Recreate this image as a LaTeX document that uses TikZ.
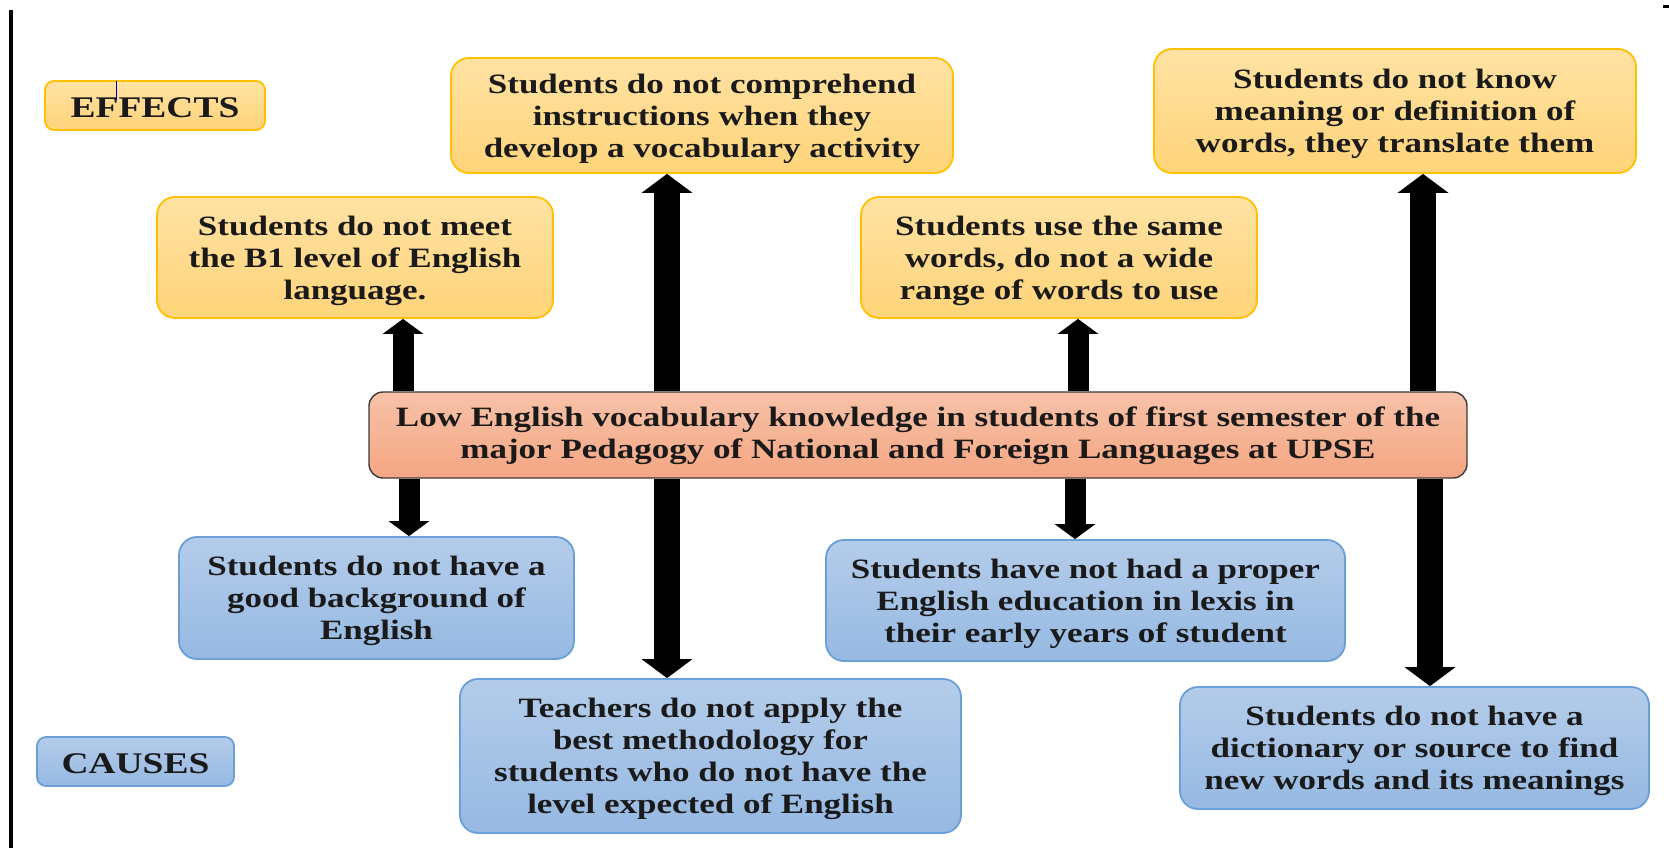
\documentclass[tikz,border=0pt]{standalone}
\usepackage{fontspec}
\setmainfont{Liberation Serif}[FakeStretch=1.25]
\usepackage{tikz}
\usetikzlibrary{arrows.meta}
\usepackage{color}

\definecolor{effline}{HTML}{FFC000}
\definecolor{efftop}{HTML}{FFE2A3}
\definecolor{effbot}{HTML}{FFD47A}
\definecolor{cauline}{HTML}{6A9FD8}
\definecolor{cautop}{HTML}{B4CCEA}
\definecolor{caubot}{HTML}{96B9E2}
\definecolor{probtop}{HTML}{F7C2A9}
\definecolor{probbot}{HTML}{F4A682}
\definecolor{probline}{HTML}{3A3A3A}
\definecolor{inktext}{HTML}{1A1A1A}

\tikzset{
  box/.style={rounded corners=18pt, line width=1.8pt, align=center, inner sep=0pt,
              text=inktext, font=\bfseries\fontsize{28}{32}\selectfont,
              text depth=-2pt},
  effect/.style={box, draw=effline, top color=efftop, bottom color=effbot},
  cause/.style={box, draw=cauline, top color=cautop, bottom color=caubot},
  problem/.style={box, rounded corners=14pt, line width=1.4pt, draw=probline,
                  top color=probtop, bottom color=probbot, text depth=4pt},
  tag/.style={rounded corners=9pt, font=\bfseries\fontsize{30}{34}\selectfont,
              text depth=, execute at begin node={\rule{0pt}{24pt}}},
  fatarrow/.style={line width=26pt, -{Triangle[width=50pt,length=19pt]}}
}

\begin{document}
\begin{tikzpicture}[x=1pt,y=-1pt]
\useasboundingbox (0,0) rectangle (1669,848);
% page border
\draw[line width=4pt] (11,10) -- (11,848);
\draw[line width=3pt] (1663,7) -- (1669,7);

% effects
\begin{scope}[every node/.style={effect}]
    \node[tag, minimum width=220pt, minimum height=49pt] (effects) at (155,105.5) {EFFECTS};
    \node[minimum width=502pt, minimum height=115pt] (comprehend) at (702,115.5)
        {Students do not comprehend\\instructions when they\\develop a vocabulary activity};
    \node[minimum width=396pt, minimum height=121pt] (meetB1) at (355,257.5)
        {Students do not meet\\the B1 level of English\\language.};
    \node[minimum width=396pt, minimum height=121pt] (samewords) at (1059,257.5)
        {Students use the same\\words, do not a wide\\range of words to use};
    \node[minimum width=482pt, minimum height=124pt] (meaning) at (1395,111)
        {Students do not know\\meaning or definition of\\words, they translate them};
\end{scope}
\draw[draw=blue!70!black, line width=1pt] (116,81) -- (116,100);

% causes
\begin{scope}[every node/.style={cause}]
    \node[tag, minimum width=197pt, minimum height=49pt] (causes) at (135.5,761.5) {CAUSES};
    \node[minimum width=395pt, minimum height=122pt] (background) at (376.5,598)
        {Students do not have a\\good background of\\English};
    \node[minimum width=501pt, minimum height=154pt] (teachers) at (710.5,756)
        {Teachers do not apply the\\best methodology for\\students who do not have the\\level expected of English};
    \node[minimum width=519pt, minimum height=121pt] (education) at (1085.5,600.5)
        {Students have not had a proper\\English education in lexis in\\their early years of student};
    \node[minimum width=469pt, minimum height=122pt] (dictionary) at (1414.5,748)
        {Students do not have a\\dictionary or source to find\\new words and its meanings};
\end{scope}

\node[problem, minimum width=1098pt, minimum height=86pt] (low) at (918,435)
    {Low English vocabulary knowledge in students of first semester of the\\major Pedagogy of National and Foreign Languages at UPSE};

\coordinate (colAup) at (403,0);
\coordinate (colAdn) at (409,0);
\coordinate (colB) at (667,0);
\coordinate (colCup) at (1078,0);
\coordinate (colCdn) at (1075,0);
\coordinate (colDup) at (1423,0);
\coordinate (colDdn) at (1430,0);

\begin{scope}[>={Triangle[width=40pt,length=15pt]},
              every edge/.style={draw=black, line width=21pt}]
    \path [->] (low.north -| colAup) edge (meetB1.south -| colAup);
    \path [->] (low.south -| colAdn) edge (background.north -| colAdn);
    \path [->] (low.north -| colB) edge[fatarrow] (comprehend.south -| colB);
    \path [->] (low.south -| colB) edge[fatarrow] (teachers.north -| colB);
    \path [->] (low.north -| colCup) edge (samewords.south -| colCup);
    \path [->] (low.south -| colCdn) edge (education.north -| colCdn);
    \path [->] (low.north -| colDup) edge[fatarrow] (meaning.south -| colDup);
    \path [->] (low.south -| colDdn) edge[fatarrow] (dictionary.north -| colDdn);
\end{scope}
\end{tikzpicture}
\end{document}
